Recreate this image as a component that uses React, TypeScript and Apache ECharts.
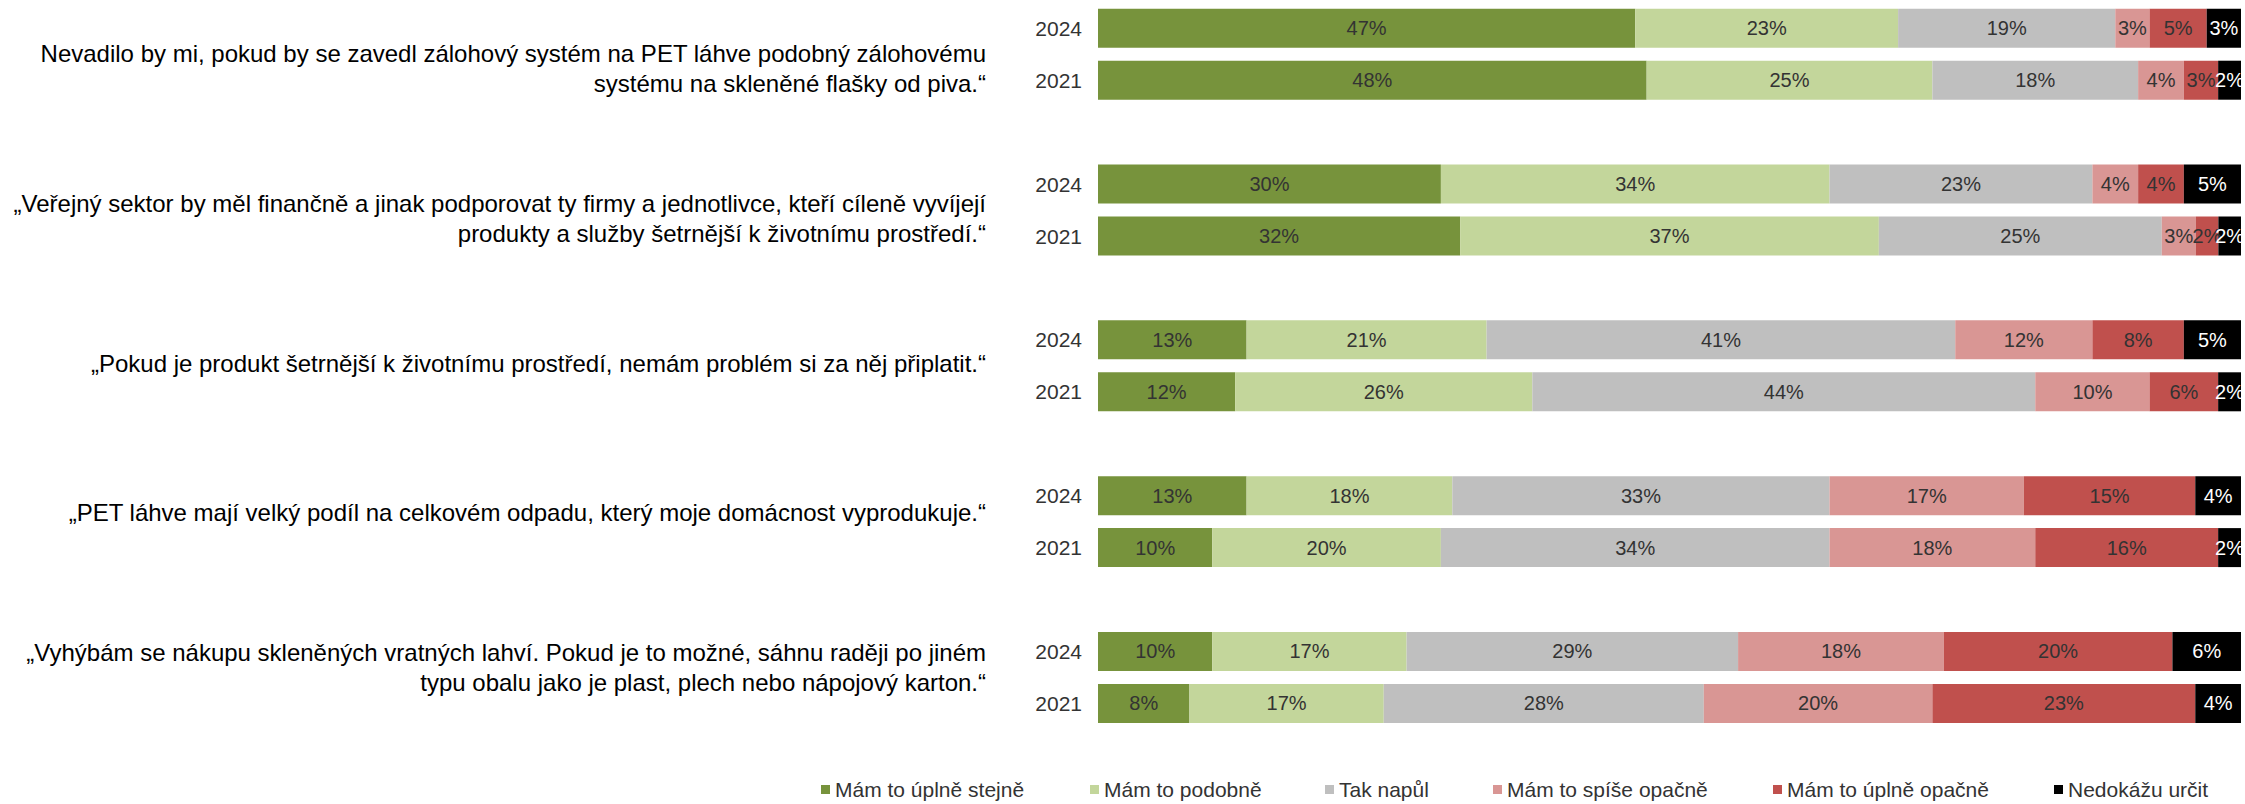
import React, { useEffect, useRef } from "react";
import * as echarts from "echarts";

const statements = [
  "Nevadilo by mi, pokud by se zavedl zálohový systém na PET láhve podobný zálohovému\nsystému na skleněné flašky od piva.“",
  "„Veřejný sektor by měl finančně a jinak podporovat ty firmy a jednotlivce, kteří cíleně vyvíjejí\nprodukty a služby šetrnější k životnímu prostředí.“",
  "„Pokud je produkt šetrnější k životnímu prostředí, nemám problém si za něj připlatit.“",
  "„PET láhve mají velký podíl na celkovém odpadu, který moje domácnost vyprodukuje.“",
  "„Vyhýbám se nákupu skleněných vratných lahví. Pokud je to možné, sáhnu raději po jiném\ntypu obalu jako je plast, plech nebo nápojový karton.“",
];

const years = ["2024", "2021"];

const seriesNames = [
  "Mám to úplně stejně",
  "Mám to podobně",
  "Tak napůl",
  "Mám to spíše opačně",
  "Mám to úplně opačně",
  "Nedokážu určit",
];

const colors = ["#77933C", "#C3D69B", "#BFBFBF", "#D99694", "#C0504D", "#000000"];
const labelColors = ["#333333", "#333333", "#333333", "#333333", "#333333", "#FFFFFF"];

// values per statement (in order of statements)
const values2024 = [
  [47, 30, 13, 13, 10], // Mám to úplně stejně
  [23, 34, 21, 18, 17], // Mám to podobně
  [19, 23, 41, 33, 29], // Tak napůl
  [3, 4, 12, 17, 18], // Mám to spíše opačně
  [5, 4, 8, 15, 20], // Mám to úplně opačně
  [3, 5, 5, 4, 6], // Nedokážu určit
];
const values2021 = [
  [48, 32, 12, 10, 8],
  [25, 37, 26, 20, 17],
  [18, 25, 44, 34, 28],
  [4, 3, 10, 18, 20],
  [3, 2, 6, 16, 23],
  [2, 2, 2, 2, 4],
];

// layout constants
const FONT = "'Liberation Sans', Arial, Helvetica, sans-serif";
const statementCenters = [68, 218, 363, 512, 667];
const legendLefts = [821, 1090, 1325, 1493, 1773, 2054];

export default function App() {
  const ref = useRef<HTMLDivElement>(null);

  useEffect(() => {
    if (!ref.current) return;
    const chart = echarts.init(ref.current, null, { renderer: "svg" });

    const categories: string[] = [];
    statements.forEach(() => {
      categories.push(years[0], years[1], "");
    });

    const totals2024 = statements.map((_, g) =>
      values2024.reduce((s, arr) => s + arr[g], 0)
    );
    const totals2021 = statements.map((_, g) =>
      values2021.reduce((s, arr) => s + arr[g], 0)
    );

    const series = seriesNames.map((name, si) => {
      const data: any[] = [];
      statements.forEach((_, g) => {
        const a = values2024[si][g];
        const b = values2021[si][g];
        data.push({ value: (a / totals2024[g]) * 100, raw: a });
        data.push({ value: (b / totals2021[g]) * 100, raw: b });
        data.push("-");
      });
      return {
        name,
        type: "bar",
        stack: "total",
        barWidth: 39,
        itemStyle: { color: colors[si] },
        label: {
          show: true,
          position: "inside",
          color: labelColors[si],
          fontSize: 20,
          fontFamily: FONT,
          formatter: (p: any) => (p.data && p.data.raw != null ? p.data.raw + "%" : ""),
        },
        emphasis: { disabled: true },
        data,
      };
    });

    const legends = seriesNames.map((name, i) => ({
      data: [name],
      left: legendLefts[i],
      top: 779,
      padding: 0,
      icon: "rect",
      itemWidth: 9,
      itemHeight: 9,
      itemGap: 5,
      selectedMode: false,
      textStyle: { fontSize: 21, fontFamily: FONT, color: "#333333" },
    }));

    const graphics = statements.map((text, i) => ({
      type: "text",
      x: 986,
      y: statementCenters[i],
      style: {
        text,
        fill: "#000000",
        font: `24px ${FONT}`,
        textAlign: "right",
        textVerticalAlign: "middle",
        lineHeight: 30,
      },
    }));

    chart.setOption({
      animation: false,
      backgroundColor: "#ffffff",
      grid: {
        left: 1098,
        right: 4,
        top: 2.3,
        height: 779,
        containLabel: false,
        outerBoundsMode: "none",
      },
      xAxis: {
        type: "value",
        min: 0,
        max: 100,
        show: false,
      },
      yAxis: {
        type: "category",
        inverse: true,
        data: categories,
        axisLine: { show: false },
        axisTick: { show: false },
        splitLine: { show: false },
        axisLabel: {
          margin: 16,
          fontSize: 21,
          fontFamily: FONT,
          color: "#333333",
          interval: 0,
        },
      },
      legend: legends,
      graphic: graphics,
      series,
    });

    return () => chart.dispose();
  }, []);

  return (
    <div
      ref={ref}
      style={{ position: "fixed", left: 0, top: 0, width: 2245, height: 804 }}
    />
  );
}
